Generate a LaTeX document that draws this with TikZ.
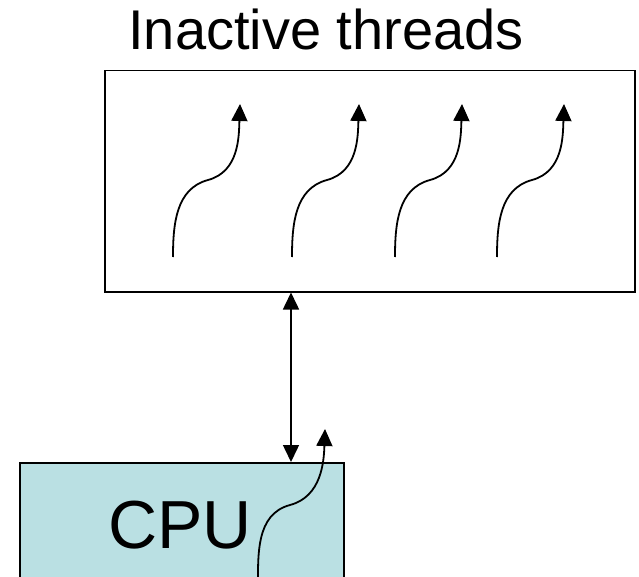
\documentclass[tikz,border=0pt]{standalone}
\usepackage{fontspec}
\setmainfont{Liberation Sans}
\usetikzlibrary{arrows.meta}
\definecolor{cpufill}{RGB}{186,224,227}
\tikzset{
  box/.style={draw=black, line width=1.5pt, inner sep=0pt},
  thread/.style={line width=1.8pt, -{Triangle[length=17pt,width=16pt]}},
  link/.style={line width=1.5pt, {Triangle[length=17pt,width=16pt]}-{Triangle[length=17pt,width=16pt]}},
}
\begin{document}
\begin{tikzpicture}[x=1pt,y=-1pt]
  \useasboundingbox (0,0) rectangle (639,577);
  \clip (0,0) rectangle (639,577);

  % title
  \node[anchor=base, font=\fontsize{56}{60}\selectfont] (title) at (326,50) {Inactive threads};

  % pool of inactive threads
  \node[box, fill=white, minimum width=530pt, minimum height=221pt, anchor=north west] (pool) at (104,70) {};

  % CPU (runs off the bottom edge)
  \node[box, fill=cpufill, minimum width=324pt, minimum height=160pt, anchor=north west] (cpu) at (19,462) {};
  \node[anchor=base, font=\fontsize{68}{72}\selectfont] (cpulabel) at (180,548) {CPU};

  % threads waiting in the pool
  \foreach \i/\x in {1/173, 2/292, 3/395, 4/497}{
    \coordinate (s\i) at (\x,257);
    \coordinate (m\i) at (\x+35,180);
    \coordinate (t\i) at (\x+67,104);
    \draw[thread] (s\i) to[out=90,in=195] (m\i) to[out=15,in=-92] (t\i);
  }

  % thread running on the CPU
  \coordinate (cs) at (258,590);
  \coordinate (cm) at (290,505);
  \coordinate (ct) at (325,429);
  \draw[thread] (cs) to[out=90,in=195] (cm) to[out=15,in=-92] (ct);

  % swap path between pool and CPU
  \coordinate (linktop) at (pool.south -| 291,0);
  \coordinate (linkbot) at (cpu.north -| 291,0);
  \draw[link] (linktop) -- (linkbot);
\end{tikzpicture}
\end{document}
